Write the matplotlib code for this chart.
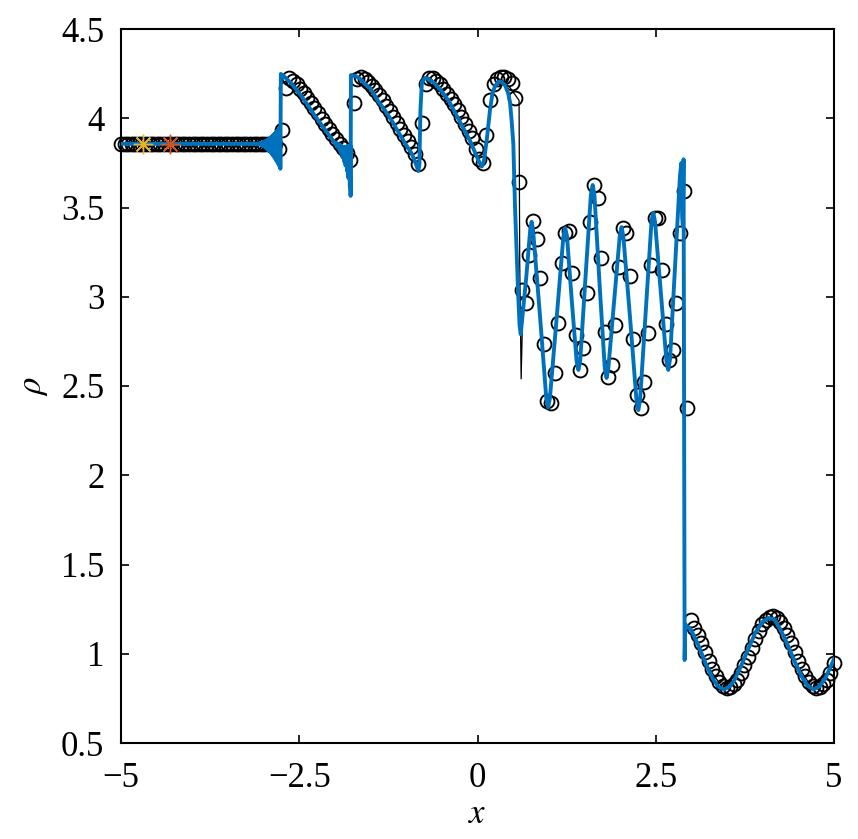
import numpy as np
import matplotlib
matplotlib.use("Agg")
import matplotlib.pyplot as plt

# ---- data ----
# fine-grid solution (blue), vertices
blue_x = [-5.00, -3.12,
          -3.11, -3.10, -3.09, -3.08, -3.07, -3.06, -3.05, -3.04, -3.03, -3.02,
          -3.01, -3.00, -2.99, -2.98, -2.97, -2.96, -2.95, -2.94, -2.93, -2.92,
          -2.91, -2.90, -2.89, -2.88, -2.87, -2.86, -2.85, -2.84, -2.83, -2.82,
          -2.81, -2.80, -2.79, -2.78, -2.77, -2.765,
          -2.758, -2.70, -2.60, -2.50, -2.40, -2.30, -2.20, -2.10,
          -2.00, -1.99, -1.98, -1.97, -1.96, -1.95, -1.94, -1.93, -1.92, -1.91,
          -1.90, -1.89, -1.88, -1.87, -1.86, -1.85, -1.84, -1.83, -1.82, -1.81,
          -1.80, -1.79, -1.785, -1.78,
          -1.775, -1.72, -1.65, -1.60, -1.50, -1.40, -1.30, -1.20, -1.10, -1.00,
          -0.92, -0.86, -0.83, -0.815, -0.80, -0.78, -0.74, -0.70, -0.60, -0.50,
          -0.40, -0.30, -0.20, -0.10, -0.01, 0.03, 0.06, 0.09, 0.13, 0.175,
          0.21, 0.245, 0.30, 0.33, 0.386, 0.43, 0.456, 0.48, 0.502, 0.526,
          0.57, 0.59, 0.606, 0.683, 0.74, 0.76, 0.78, 0.875, 0.965, 0.99,
          1.015, 1.11, 1.205, 1.23, 1.255, 1.32, 1.39, 1.415, 1.44, 1.515,
          1.59, 1.615, 1.64, 1.71, 1.785, 1.81, 1.835, 1.915, 1.995, 2.02,
          2.045, 2.14, 2.23, 2.255, 2.28, 2.36, 2.44, 2.466, 2.49, 2.57,
          2.65, 2.676, 2.70, 2.77, 2.84, 2.86, 2.87, 2.88, 2.89, 2.905,
          2.915, 3.00, 3.10, 3.20, 3.30, 3.38, 3.456, 3.53, 3.60, 3.70,
          3.80, 3.90, 4.00, 4.08, 4.16, 4.25, 4.35, 4.45, 4.55, 4.63,
          4.71, 4.79, 4.88, 4.95, 5.00]
blue_y = [3.857, 3.857,
          3.857, 3.857, 3.857, 3.856, 3.858, 3.854, 3.860, 3.851, 3.862, 3.848,
          3.865, 3.843, 3.869, 3.838, 3.873, 3.831, 3.878, 3.824, 3.883, 3.816,
          3.890, 3.807, 3.897, 3.797, 3.904, 3.786, 3.912, 3.774, 3.921, 3.761,
          3.930, 3.747, 3.941, 3.733, 3.951, 3.717,
          4.248, 4.23, 4.19, 4.14, 4.085, 4.025, 3.97, 3.915,
          3.860, 3.852, 3.862, 3.842, 3.857, 3.832, 3.852, 3.818, 3.847, 3.802,
          3.842, 3.782, 3.840, 3.760, 3.840, 3.735, 3.840, 3.705, 3.845, 3.665,
          3.845, 3.615, 3.850, 3.565,
          4.242, 4.238, 4.222, 4.20, 4.165, 4.10, 4.045, 3.985, 3.915, 3.85,
          3.80, 3.74, 3.705, 3.74, 4.05, 4.20, 4.225, 4.222, 4.195, 4.15,
          4.095, 4.02, 3.945, 3.87, 3.785, 3.75, 3.73, 3.76, 3.88, 4.046,
          4.14, 4.18, 4.205, 4.205, 4.186, 4.14, 4.09, 3.98, 3.86, 3.505,
          3.02, 2.84, 2.79, 3.105, 3.38, 3.42, 3.37, 2.90, 2.43, 2.38,
          2.43, 2.88, 3.34, 3.385, 3.34, 2.99, 2.64, 2.59, 2.64, 3.11,
          3.57, 3.626, 3.57, 3.085, 2.60, 2.545, 2.60, 2.97, 3.34, 3.39,
          3.34, 2.88, 2.42, 2.365, 2.42, 2.92, 3.42, 3.47, 3.42, 3.03,
          2.64, 2.59, 2.65, 3.17, 3.68, 3.75, 3.45, 3.40, 3.77, 0.965,
          1.165, 1.13, 1.045, 0.945, 0.86, 0.815, 0.80, 0.815, 0.85, 0.935,
          1.03, 1.12, 1.18, 1.20, 1.194, 1.135, 1.05, 0.955, 0.87, 0.82,
          0.80, 0.815, 0.865, 0.925, 0.97]

# reference solution (thin black), vertices
ref_x = [-5.00, -2.76, -2.755, -2.70, -2.60, -2.50, -2.40, -2.30, -2.20, -2.10,
         -2.00, -1.90, -1.80, -1.775, -1.772, -1.72, -1.65, -1.60, -1.50, -1.40,
         -1.30, -1.20, -1.10, -1.00, -0.92, -0.86, -0.83, -0.815, -0.80, -0.78,
         -0.74, -0.70, -0.60, -0.50, -0.40, -0.30, -0.20, -0.10, -0.01, 0.03,
         0.06, 0.09, 0.13, 0.175, 0.21, 0.245, 0.30, 0.34, 0.386, 0.45,
         0.53, 0.583, 0.592, 0.612, 0.63, 0.683, 0.74, 0.76, 0.78, 0.875,
         0.965, 0.99, 1.015, 1.11, 1.205, 1.23, 1.255, 1.32, 1.39, 1.415,
         1.44, 1.515, 1.59, 1.615, 1.64, 1.71, 1.785, 1.81, 1.835, 1.915,
         1.995, 2.02, 2.045, 2.14, 2.23, 2.255, 2.28, 2.36, 2.44, 2.466,
         2.49, 2.57, 2.65, 2.676, 2.70, 2.77, 2.84, 2.86, 2.90, 2.91,
         3.00, 3.20, 3.456, 3.70, 3.90, 4.08, 4.25, 4.45, 4.71, 4.88, 5.00]
ref_y = [3.857, 3.857, 4.245, 4.23, 4.19, 4.14, 4.085, 4.025, 3.97, 3.915,
         3.86, 3.81, 3.77, 3.765, 4.242, 4.238, 4.222, 4.20, 4.165, 4.10,
         4.045, 3.985, 3.915, 3.85, 3.80, 3.74, 3.705, 3.74, 4.05, 4.20,
         4.225, 4.222, 4.195, 4.15, 4.095, 4.02, 3.945, 3.87, 3.785, 3.75,
         3.73, 3.76, 3.88, 4.046, 4.14, 4.18, 4.21, 4.215, 4.195, 4.175,
         4.13, 4.10, 3.20, 2.54, 2.85, 3.105, 3.38, 3.42, 3.37, 2.90,
         2.43, 2.38, 2.43, 2.88, 3.34, 3.385, 3.34, 2.99, 2.64, 2.59,
         2.64, 3.11, 3.57, 3.626, 3.57, 3.085, 2.60, 2.545, 2.60, 2.97,
         3.34, 3.39, 3.34, 2.88, 2.42, 2.365, 2.42, 2.92, 3.42, 3.47,
         3.42, 3.03, 2.64, 2.59, 2.65, 3.17, 3.68, 3.75, 3.62, 1.17,
         1.13, 0.945, 0.80, 0.935, 1.12, 1.20, 1.135, 0.955, 0.80, 0.865, 0.97]

# coarse solution (circles), 200 grid points
n_coarse = 200
coarse_y = ([3.857] * 44 +
            [3.83, 3.934, 4.168, 4.224, 4.21, 4.19, 4.165, 4.14, 4.113, 4.086,
             4.057, 4.027, 3.998, 3.97, 3.942, 3.914, 3.886, 3.858, 3.832, 3.806,
             3.766, 4.084, 4.22, 4.232, 4.222, 4.205, 4.183, 4.16, 4.13, 4.10,
             4.07, 4.04, 4.008, 3.975, 3.94, 3.905, 3.872, 3.84, 3.80, 3.745,
             3.975, 4.19, 4.228, 4.225, 4.21, 4.19, 4.165, 4.138, 4.11, 4.08,
             4.045, 4.005, 3.965, 3.93, 3.89, 3.83, 3.77, 3.75, 3.906, 4.10,
             4.19, 4.218, 4.23, 4.232, 4.222, 4.196, 4.112] +
            [3.645, 3.038, 2.963, 3.234, 3.424, 3.324, 3.103, 2.733, 2.418, 2.403,
             2.571, 2.855, 3.191, 3.359, 3.370, 3.131, 2.786, 2.590, 2.711, 3.019,
             3.421, 3.626, 3.555, 3.219, 2.801, 2.552, 2.618, 2.842, 3.165, 3.383,
             3.359, 3.118, 2.763, 2.450, 2.375, 2.524, 2.799, 3.178, 3.439, 3.439,
             3.150, 2.846, 2.646, 2.702, 2.967, 3.355, 3.592, 2.375] +
            [1.19, 1.147, 1.107, 1.061, 1.011, 0.961, 0.914, 0.873, 0.841, 0.820,
             0.810, 0.813, 0.829, 0.855, 0.892, 0.936, 0.984, 1.035, 1.083, 1.127,
             1.164, 1.191, 1.206, 1.210, 1.200, 1.179, 1.147, 1.107, 1.061, 1.011,
             0.961, 0.914, 0.874, 0.841, 0.820, 0.810, 0.813, 0.829, 0.855, 0.892,
             0.95])
coarse_x = np.linspace(-5, 5, n_coarse)

# probe locations
probe_x = [-4.69, -4.31]
probe_y = [3.857, 3.857]
probe_colors = ['#EDB120', '#D95319']

xticks = [-5, -2.5, 0, 2.5, 5]
yticks = [0.5, 1, 1.5, 2, 2.5, 3, 3.5, 4, 4.5]

plt.rcParams['font.family'] = ['Liberation Serif', 'DejaVu Serif']
plt.rcParams['mathtext.fontset'] = 'stix'

fig = plt.figure(figsize=(8.58, 8.39), dpi=100)
ax = fig.add_axes([121 / 858, 96 / 839, 713 / 858, 714 / 839])

ax.plot(coarse_x, coarse_y, 'o', mfc='none', mec='k', mew=1.35, ms=10,
        clip_on=False, zorder=2)
ax.plot(ref_x, ref_y, '-', color='k', lw=0.9, zorder=3)
ax.plot(blue_x, blue_y, '-', color='#0072BD', lw=2.8, zorder=4)
for px, py, c in zip(probe_x, probe_y, probe_colors):
    ax.plot(px, py, marker=(8, 2, 0), color=c, ms=14, mew=1.0, zorder=5)

ax.set_xlim(-5, 5)
ax.set_ylim(0.5, 4.5)
ax.set_xticks(xticks)
ax.set_yticks(yticks)
ax.set_xticklabels(['\u22125', '\u22122.5', '0', '2.5', '5'])
ax.set_yticklabels(['0.5', '1', '1.5', '2', '2.5', '3', '3.5', '4', '4.5'])
ax.tick_params(direction='in', length=6, width=1.2, labelsize=25,
               top=True, right=True)
ax.tick_params(axis='y', pad=12)
ax.tick_params(axis='x', pad=14)
for s in ax.spines.values():
    s.set_linewidth(1.5)

ax.set_xlabel(r'$x$', fontsize=25, labelpad=2)
ax.set_ylabel(r'$\rho$', fontsize=25, labelpad=8)

fig.savefig('out.png', dpi=100)
